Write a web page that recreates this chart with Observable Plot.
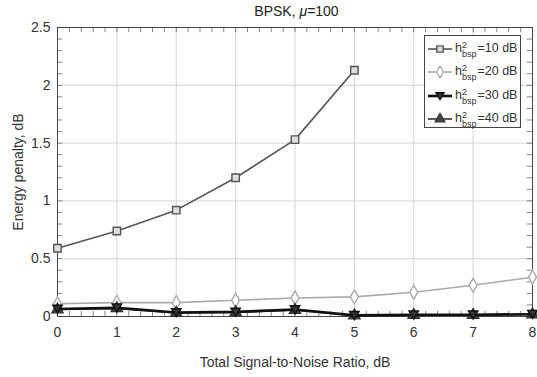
<!DOCTYPE html>
<html><head><meta charset="utf-8">
<script src="https://cdn.jsdelivr.net/npm/d3@7"></script>
<script src="https://cdn.jsdelivr.net/npm/@observablehq/plot@0.6"></script>
<style>
body{margin:0;background:#fff;font-family:"Liberation Sans",Arial,sans-serif;}
#wrap{position:relative;width:537px;height:377px;}
#title{position:absolute;left:0;width:537px;top:3px;text-align:center;font-size:14px;color:#222;padding-left:56px;box-sizing:border-box;}
#legend{position:absolute;left:424px;top:35px;width:97px;height:93px;border:1px solid #444;background:#fff;box-sizing:border-box;font-size:12.5px;color:#333;}
.row{position:absolute;left:1px;height:20px;display:flex;align-items:center;}
.row svg{margin-right:1px;}
.hs{display:inline-flex;flex-direction:column;vertical-align:middle;line-height:9px;font-size:9px;margin-right:1px;position:relative;top:1px;}
</style></head>
<body><div id="wrap"><div id="title">BPSK, <i>μ</i>=100</div><div id="legend"></div></div>
<script>
const snr = [0,1,2,3,4,5,6,7,8];
const names = ["10 dB","20 dB","30 dB","40 dB"];
const s10 = [0.59,0.74,0.92,1.20,1.53,2.13];
const s20 = [0.11,0.12,0.12,0.14,0.16,0.17,0.21,0.27,0.34];
const s30 = [0.065,0.075,0.035,0.04,0.06,0.01,0.015,0.015,0.02];
const s40 = [0.06,0.07,0.03,0.035,0.055,0.008,0.012,0.012,0.018];
const yTicks = [0,0.5,1,1.5,2,2.5];
const yTickLabels = ["0","0.5","1","1.5","2","2.5"];

const colors = ["#555","#aaa","#111","#333"];
const fills = ["#ddd","#fff","#333","#444"];
const widths = [1.6,1.6,2.6,1.6];
const downTri = {draw(ctx, size){const r=Math.sqrt(size/3)*1.1;ctx.moveTo(-r,-r*0.8);ctx.lineTo(r,-r*0.8);ctx.lineTo(0,r*0.9);ctx.closePath();}};
const symbols = ["square","diamond",downTri,"triangle"];
const series = [s10,s20,s30,s40];
const data = series.map((s,i)=>s.map((v,j)=>({x:snr[j],y:v,k:i})));

const xMinor = d3.range(0,8.001,0.2);
const yMinor = d3.range(0,2.501,0.1);
const tl = 0.045, tlx = 0.09;

const marks = [
  Plot.gridX(snr,{stroke:"#ccc",strokeOpacity:1,strokeWidth:0.8}),
  Plot.gridY(yTicks,{stroke:"#ccc",strokeOpacity:1,strokeWidth:0.8}),
  Plot.ruleX(xMinor,{y1:0,y2:tl,stroke:"#555",strokeWidth:0.7}),
  Plot.ruleX(xMinor,{y1:2.5,y2:2.5-tl,stroke:"#555",strokeWidth:0.7}),
  Plot.ruleY(yMinor,{x1:0,x2:tlx,stroke:"#555",strokeWidth:0.7}),
  Plot.ruleY(yMinor,{x1:8,x2:8-tlx,stroke:"#555",strokeWidth:0.7}),
  Plot.frame({stroke:"#444",strokeWidth:1}),
];
[1,0,3,2].forEach(i=>{
  marks.push(Plot.line(data[i],{x:"x",y:"y",stroke:colors[i],strokeWidth:widths[i]}));
  marks.push(Plot.dot(data[i],{x:"x",y:"y",symbol:()=>symbols[i],r:4.2,stroke:colors[i],fill:fills[i],strokeWidth:1.4}));
});
marks.push(Plot.axisX(snr,{tickSize:0,tickPadding:11,fontSize:14,fill:"#333",label:null}));
marks.push(Plot.axisY(yTicks,{tickSize:0,tickPadding:7,fontSize:14,fill:"#333",tickFormat:(d)=>yTickLabels[yTicks.indexOf(d)],label:null}));
marks.push(Plot.axisX({anchor:"bottom",ticks:[],label:"Total Signal-to-Noise Ratio, dB",labelAnchor:"center",labelOffset:50,labelArrow:"none",fontSize:14,fill:"#333"}));
marks.push(Plot.axisY({anchor:"left",ticks:[],label:"Energy penalty, dB",labelAnchor:"center",labelOffset:44,labelArrow:"none",fontSize:14,fill:"#333"}));

const chart = Plot.plot({
  width:537,height:377,
  marginLeft:57,marginRight:5,marginTop:27,marginBottom:61,
  style:{fontFamily:"Liberation Sans, Arial, sans-serif",fontSize:"14px",color:"#333"},
  x:{domain:[0,8]},
  y:{domain:[0,2.5]},
  symbol:{type:"identity"},
  marks
});
document.getElementById("wrap").prepend(chart);

// legend
const lg = document.getElementById("legend");
names.forEach((n,i)=>{
  const row = document.createElement("div");
  row.className="row"; row.style.top=(3+i*23.3)+"px";
  const sv = d3.create("svg").attr("width",28).attr("height",14);
  sv.append("line").attr("x1",2).attr("x2",26).attr("y1",7).attr("y2",7).attr("stroke",colors[i]).attr("stroke-width",widths[i]);
  const sym = typeof symbols[i]==="string" ? {square:d3.symbolSquare,diamond:d3.symbolDiamond,triangle:d3.symbolTriangle}[symbols[i]] : symbols[i];
  sv.append("path").attr("d",d3.symbol(sym,Math.PI*13)()).attr("transform","translate(14,7)").attr("fill",fills[i]).attr("stroke",colors[i]).attr("stroke-width",1.3);
  row.appendChild(sv.node());
  const t = document.createElement("span");
  t.innerHTML = 'h<span class="hs"><span>2</span><span>bsp</span></span>=' + n;
  row.appendChild(t);
  lg.appendChild(row);
});
</script></body></html>
